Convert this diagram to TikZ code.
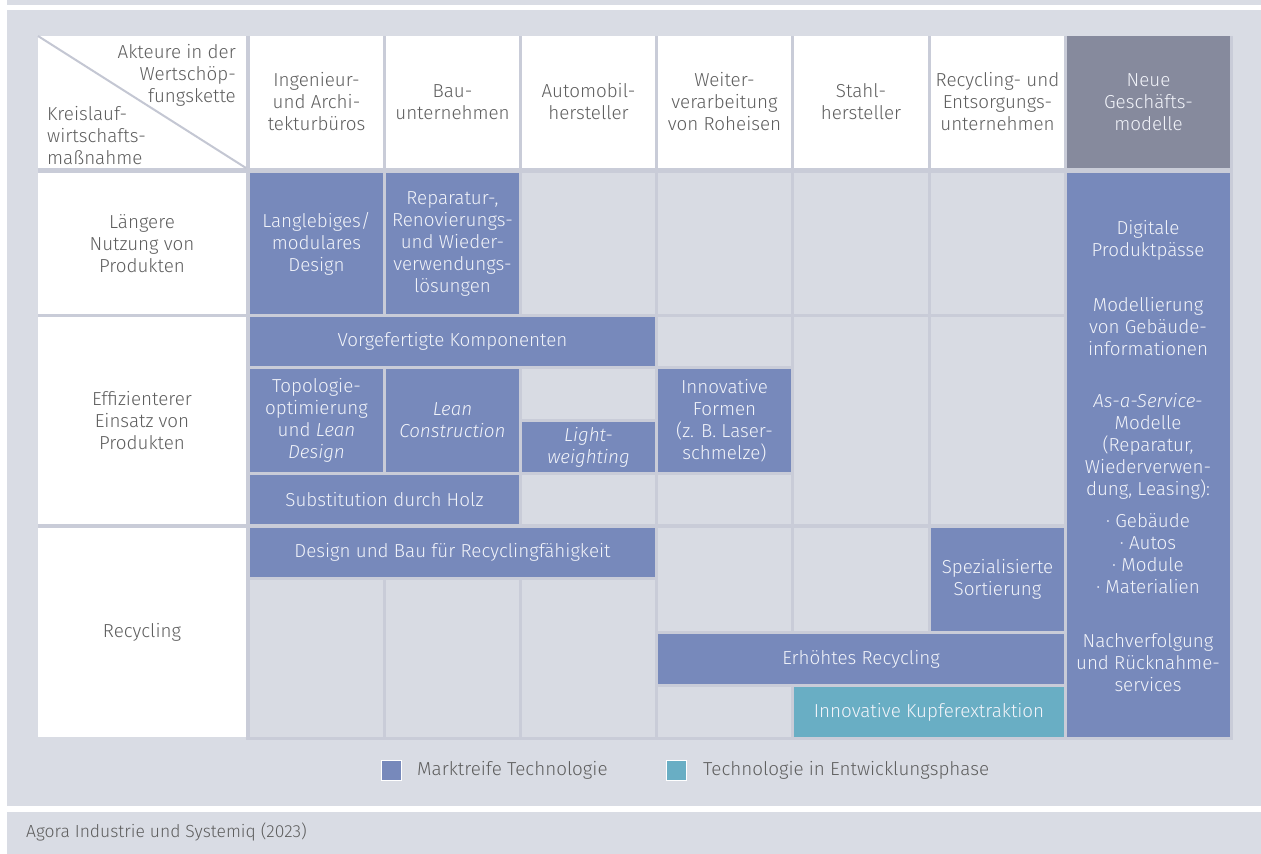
\documentclass[tikz,border=0pt]{standalone}
\usepackage{fontspec}
\setmainfont{Fira Sans}[UprightFont=* Light, ItalicFont=* Light Italic]
\definecolor{panel}{HTML}{D9DCE4}
\definecolor{sepc}{HTML}{C9CCD8}
\definecolor{cellg}{HTML}{D8DBE3}
\definecolor{blu}{HTML}{7789BB}
\definecolor{tealc}{HTML}{69AEC4}
\definecolor{hdr}{HTML}{868A9D}
\definecolor{txt}{HTML}{5E5E5E}
\definecolor{wtxt}{HTML}{F2F4FA}
\definecolor{diagc}{HTML}{C4C7D3}
\newcommand\mainfs{\fontsize{18.8}{22}\selectfont}
\newcommand\bx[7]{%
  \pgfmathsetmacro\bxw{#4-#2}\pgfmathsetmacro\bxh{#5-#3}%
  \node[#6, minimum width=\bxw pt, minimum height=\bxh pt] (#1) at ({(#2+#4)/2},{(#3+#5)/2}) {#7};}
\tikzset{
  base/.style={inner sep=0pt, outer sep=0pt, align=center, font=\mainfs},
  bluebox/.style={base, fill=blu, text=wtxt},
  tealbox/.style={base, fill=tealc, text=wtxt},
  emptycell/.style={base, fill=cellg},
  whitecell/.style={base, fill=white, text=txt},
  hdrcell/.style={base, fill=hdr, text=wtxt},
  wlabel/.style={inner sep=0pt, align=center, font=\mainfs, text=wtxt},
  glabel/.style={inner sep=0pt, font=\mainfs, text=txt},
  legsq/.style={draw=white, line width=0.8pt, minimum size=20pt, inner sep=0pt},
}
\begin{document}
\begin{tikzpicture}[x=1pt,y=-1pt]
\useasboundingbox (0,0) rectangle (1261,854);
\fill[white] (0,0) rectangle (1261,854);
\fill[panel] (7,0) rectangle (1261,5);
\fill[panel] (7,10) rectangle (1261,806);
\fill[panel] (7,812) rectangle (1261,854);
\fill[sepc] (38,36) rectangle (1233,737);
\fill[sepc] (246,737) rectangle (1233,740);
% header row
\bx{hc0}{38}{36}{246}{168}{whitecell}{}
\bx{hc1}{250}{36}{383}{168}{whitecell}{Ingenieur-\\und Archi-\\tekturbüros}
\bx{hc2}{386}{36}{519}{168}{whitecell}{Bau-\\unternehmen}
\bx{hc3}{522}{36}{655}{168}{whitecell}{Automobil-\\hersteller}
\bx{hc4}{658}{36}{791}{168}{whitecell}{Weiter-\\verarbeitung\\von Roheisen}
\bx{hc5}{794}{36}{928}{168}{whitecell}{Stahl-\\hersteller}
\bx{hc6}{931}{36}{1064}{168}{whitecell}{Recycling- und\\Entsorgungs-\\unternehmen}
\bx{hc7}{1067}{36}{1230}{168}{hdrcell}{Neue\\Geschäfts-\\modelle}
\draw[diagc, line width=2pt] (hc0.north west) -- (hc0.south east);
\node[glabel, align=right, anchor=east] (akt) at (236,75) {Akteure in der\\Wertschöp-\\fungskette};
\node[glabel, align=left, anchor=west] (kre) at (47,136) {Kreislauf-\\wirtschafts-\\maßnahme};
% row headers
\bx{rh1}{38}{173}{246}{314}{whitecell}{Längere\\Nutzung von\\Produkten}
\bx{rh2}{38}{317}{246}{524}{whitecell}{Effizienterer\\Einsatz von\\Produkten}
\bx{rh3}{38}{528}{246}{737}{whitecell}{Recycling}
% empty cells
\bx{e1}{522}{173}{655}{314}{emptycell}{}
\bx{e2}{658}{173}{791}{314}{emptycell}{}
\bx{e3}{794}{173}{928}{314}{emptycell}{}
\bx{e4}{931}{173}{1064}{314}{emptycell}{}
\bx{e5}{658}{317}{791}{366}{emptycell}{}
\bx{e6}{522}{369}{655}{419}{emptycell}{}
\bx{e7}{522}{475}{655}{524}{emptycell}{}
\bx{e8}{658}{475}{791}{524}{emptycell}{}
\bx{e9}{794}{317}{928}{524}{emptycell}{}
\bx{e10}{931}{317}{1064}{524}{emptycell}{}
\bx{e11}{250}{580}{383}{737}{emptycell}{}
\bx{e12}{386}{580}{519}{737}{emptycell}{}
\bx{e13}{522}{580}{655}{737}{emptycell}{}
\bx{e14}{658}{528}{791}{631}{emptycell}{}
\bx{e15}{794}{528}{928}{631}{emptycell}{}
\bx{e16}{658}{687}{791}{737}{emptycell}{}
% technology boxes
\bx{lang}{250}{173}{383}{314}{bluebox}{Langlebiges/\\modulares\\Design}
\bx{rep}{386}{173}{519}{314}{bluebox}{Reparatur-,\\Renovierungs-\\und Wieder-\\verwendungs-\\lösungen}
\bx{vorg}{250}{317}{655}{366}{bluebox}{Vorgefertigte Komponenten}
\bx{topo}{250}{369}{383}{472}{bluebox}{Topologie-\\optimierung\\und \textit{Lean}\\\textit{Design}}
\bx{lean}{386}{369}{519}{472}{bluebox}{\textit{Lean}\\\textit{Construction}}
\bx{light}{522}{422}{655}{472}{bluebox}{\textit{Light-}\\\textit{weighting}}
\bx{innof}{658}{369}{791}{472}{bluebox}{Innovative\\Formen\\(z. B. Laser-\\schmelze)}
\bx{holz}{250}{475}{519}{524}{bluebox}{Substitution durch Holz}
\bx{design}{250}{528}{655}{577}{bluebox}{Design und Bau für Recyclingfähigkeit}
\bx{sort}{931}{528}{1064}{631}{bluebox}{Spezialisierte\\Sortierung}
\bx{erh}{658}{634}{1064}{684}{bluebox}{Erhöhtes Recycling}
\bx{kupf}{794}{687}{1064}{737}{tealbox}{Innovative Kupferextraktion}
\bx{neue}{1067}{173}{1230}{737}{bluebox}{}
\node[wlabel] (n1) at (1148,240) {Digitale\\Produktpässe};
\node[wlabel] (n2) at (1148,327) {Modellierung\\von Gebäude-\\informationen};
\node[wlabel] (n3) at (1148,446) {\textit{As-a-Service-}\\Modelle\\(Reparatur,\\Wiederverwen-\\dung, Leasing):};
\node[wlabel] (n4) at (1148,554) {· Gebäude\\· Autos\\· Module\\· Materialien};
\node[wlabel] (n5) at (1148,663) {Nachverfolgung\\und Rücknahme-\\services};
% legend
\node[legsq, fill=blu] (lg1) at (391,770) {};
\node[glabel, anchor=west] (lt1) at (417,770) {Marktreife Technologie};
\node[legsq, fill=tealc] (lg2) at (676,770) {};
\node[glabel, anchor=west] (lt2) at (703,770) {Technologie in Entwicklungsphase};
% footer
\node[glabel, anchor=west, font=\fontsize{17.5}{20}\selectfont] (src) at (26,832) {Agora Industrie und Systemiq (2023)};
\end{tikzpicture}
\end{document}
